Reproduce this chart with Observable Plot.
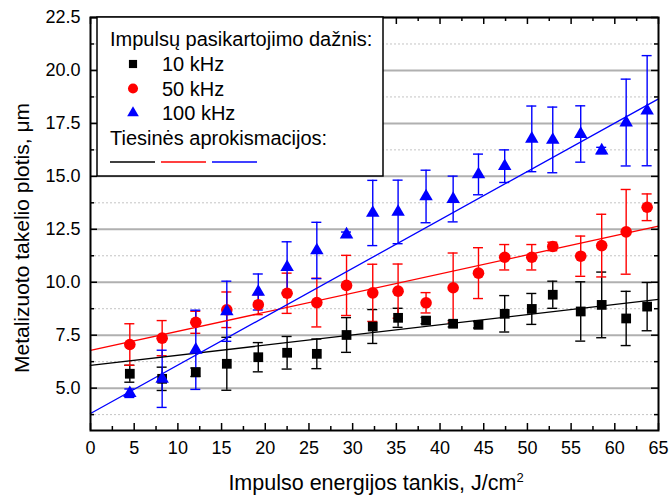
<!DOCTYPE html>
<html><head><meta charset="utf-8">
<script src="https://cdn.jsdelivr.net/npm/d3@7"></script>
<script src="https://cdn.jsdelivr.net/npm/@observablehq/plot@0.6"></script>
<style>body{margin:0;background:#fff} svg{font-family:"Liberation Sans",Arial,sans-serif}</style>
</head><body><div id="chart"></div>
<script>
// Data
const energy = [4.5, 8.2, 12.05, 15.6, 19.2, 22.5, 25.9, 29.3, 32.3, 35.2, 38.4, 41.5, 44.4, 47.4, 50.5, 52.9, 56.1, 58.5, 61.3, 63.7];
const w10  = [5.68, 5.44, 5.75, 6.15, 6.46, 6.67, 6.62, 7.51, 7.91, 8.32, 8.19, 8.04, 7.99, 8.51, 8.74, 9.41, 8.62, 8.93, 8.29, 8.85];
const e10  = [0.4, 0.55, 0.2, 1.25, 0.69, 0.77, 0.7, 0.82, 0.8, 0.45, 0.15, 0.15, 0.15, 0.86, 0.73, 0.64, 1.4, 1.55, 1.28, 1.14];
const w50  = [7.06, 7.36, 8.11, 8.7, 8.94, 9.48, 9.04, 9.85, 9.5, 9.58, 9.03, 9.74, 10.43, 11.18, 11.18, 11.69, 11.23, 11.73, 12.38, 13.54];
const e50  = [0.98, 0.83, 0.52, 0.84, 0.47, 0.95, 1.15, 1.42, 1.35, 1.28, 0.48, 1.64, 1.2, 0.6, 0.6, 0.2, 0.95, 1.48, 2.0, 0.63];
const w100 = [4.76, 5.44, 6.81, 8.63, 9.54, 10.71, 11.5, 12.25, 13.27, 13.32, 14.05, 13.93, 15.09, 15.48, 16.77, 16.72, 17.0, 16.22, 17.54, 18.1];
const e100 = [0.2, 1.35, 1.87, 1.42, 0.85, 1.2, 1.33, 0.12, 1.54, 1.5, 1.24, 1.08, 0.96, 0.77, 1.55, 1.55, 1.33, 0.15, 2.05, 2.6];
// Linear fit lines (end points)
const fitX   = [0, 65];
const fit10  = [6.07, 9.19];
const fit50  = [6.78, 12.65];
const fit100 = [3.8, 18.66];

const seriesNames = ["10 kHz", "50 kHz", "100 kHz"];
const seriesColors = ["#000000", "#ff0000", "#0000ff"];
const seriesSymbols = ["square", "circle", "triangle"];
const xMajor = d3.range(0, 66, 5);
const xMinor = d3.range(2.5, 65, 5);
const yMajor = [5, 7.5, 10, 12.5, 15, 17.5, 20, 22.5];
const yMinor = [3.75, 6.25, 8.75, 11.25, 13.75, 16.25, 18.75, 21.25];
const legendTitle = "Impulsų pasikartojimo dažnis:";
const fitTitle = "Tiesinės aprokismacijos:";
const xTitle = "Impulso energijos tankis, J/cm";
const yTitle = "Metalizuoto takelio plotis, μm";

const W = 669, H = 499, mL = 90, mR = 11, mT = 17, mB = 69;
const innerW = W - mL - mR, innerH = H - mT - mB;

const vals = [w10, w50, w100], errs = [e10, e50, e100], fits = [fit10, fit50, fit100];
const pts = [];
vals.forEach((v, s) => v.forEach((y, i) => pts.push({s, x: energy[i], y, lo: y - errs[s][i], hi: y + errs[s][i]})));
const fitRows = [];
fits.forEach((f, s) => f.forEach((y, i) => fitRows.push({s, x: fitX[i], y})));

const marks = [
  Plot.gridY(yMinor, {stroke: "#c4c4c4", strokeOpacity: 1, strokeDasharray: "2,2", strokeWidth: 1}),
  Plot.gridY(yMajor, {stroke: "#b0b0b0", strokeOpacity: 1, strokeWidth: 2}),
];
for (let s = 0; s < 3; s++) {
  const d = pts.filter(p => p.s === s);
  const c = seriesColors[s];
  marks.push(
    Plot.ruleX(d, {x: "x", y1: "lo", y2: "hi", stroke: c, strokeWidth: 1.4}),
    Plot.ruleY(d, {x1: "x", x2: "x", y: "lo", stroke: c, strokeWidth: 1.4, insetLeft: -5, insetRight: -5}),
    Plot.ruleY(d, {x1: "x", x2: "x", y: "hi", stroke: c, strokeWidth: 1.4, insetLeft: -5, insetRight: -5})
  );
}
for (let s = 0; s < 3; s++) {
  marks.push(Plot.line(fitRows.filter(r => r.s === s), {x: "x", y: "y", stroke: seriesColors[s], strokeWidth: 1.3}));
}
const rr = [5.5, 5.8, 5.0];
for (let s = 0; s < 3; s++) {
  marks.push(Plot.dot(pts.filter(p => p.s === s), {x: "x", y: "y", symbol: seriesSymbols[s], fill: seriesColors[s], stroke: "none", r: rr[s]}));
}
marks.push(
  Plot.frame({stroke: "black", strokeWidth: 2}),
  Plot.ruleX(xMajor, {x: d => d, insetTop: innerH - 7, stroke: "black", strokeWidth: 1.5}),
  Plot.ruleX(xMinor, {x: d => d, insetTop: innerH - 4, stroke: "black", strokeWidth: 1.5}),
  Plot.ruleX(xMajor, {x: d => d, insetBottom: innerH - 7, stroke: "black", strokeWidth: 1.5}),
  Plot.ruleX(xMinor, {x: d => d, insetBottom: innerH - 4, stroke: "black", strokeWidth: 1.5}),
  Plot.ruleY(yMajor, {y: d => d, insetRight: innerW - 7, stroke: "black", strokeWidth: 1.5}),
  Plot.ruleY(yMinor, {y: d => d, insetRight: innerW - 4, stroke: "black", strokeWidth: 1.5}),
  Plot.ruleY(yMajor, {y: d => d, insetLeft: innerW - 7, stroke: "black", strokeWidth: 1.5}),
  Plot.ruleY(yMinor, {y: d => d, insetLeft: innerW - 4, stroke: "black", strokeWidth: 1.5}),
  Plot.axisX(xMajor, {tickSize: 0, tickPadding: 11, tickFormat: d => String(d), label: null, fontSize: 18}),
  Plot.axisY(yMajor, {tickSize: 0, tickPadding: 10, tickFormat: d3.format(".1f"), label: null, fontSize: 18})
);

const svg = Plot.plot({
  width: W, height: H,
  marginLeft: mL, marginRight: mR, marginTop: mT, marginBottom: mB,
  x: {domain: [0, 65]},
  y: {domain: [3, 22.5]},
  style: {fontFamily: '"Liberation Sans", Arial, sans-serif', fontSize: "18px", color: "black", background: "white"},
  marks
});
document.getElementById("chart").appendChild(svg);

const g = d3.select(svg);
// Axis titles
g.append("text").attr("transform", "translate(29,238) rotate(-90)").attr("text-anchor", "middle")
  .attr("font-size", 21).attr("fill", "black").text(yTitle);
const xt = g.append("text").attr("x", 376).attr("y", 490).attr("text-anchor", "middle")
  .attr("font-size", 21.5).attr("fill", "black");
xt.append("tspan").text(xTitle);
xt.append("tspan").attr("dy", -8).attr("font-size", 13).text("2");

// Legend
const L = g.append("g").attr("font-size", 20).attr("fill", "black").attr("text-anchor", "start");
L.append("rect").attr("x", 97).attr("y", 17).attr("width", 286).attr("height", 159)
  .attr("fill", "white").attr("stroke", "black").attr("stroke-width", 1.5);
L.append("text").attr("x", 110).attr("y", 46).attr("text-anchor", "start").text(legendTitle);
const symMap = {square: d3.symbolSquare, circle: d3.symbolCircle, triangle: d3.symbolTriangle};
seriesNames.forEach((n, i) => {
  const cy = 64 + i * 24.5;
  L.append("path").attr("transform", `translate(133,${cy})`)
    .attr("d", d3.symbol(symMap[seriesSymbols[i]], Math.PI * rr[i] * rr[i] * (i === 0 ? 0.7 : 0.75))())
    .attr("fill", seriesColors[i]);
  L.append("text").attr("x", 162).attr("y", cy + 7).attr("text-anchor", "start").text(n);
});
L.append("text").attr("x", 110).attr("y", 145).attr("text-anchor", "start").text(fitTitle);
seriesColors.forEach((c, i) => {
  L.append("line").attr("x1", 110 + i * 51).attr("x2", 155 + i * 51).attr("y1", 162).attr("y2", 162)
    .attr("stroke", c).attr("stroke-width", 1.3);
});
</script></body></html>
